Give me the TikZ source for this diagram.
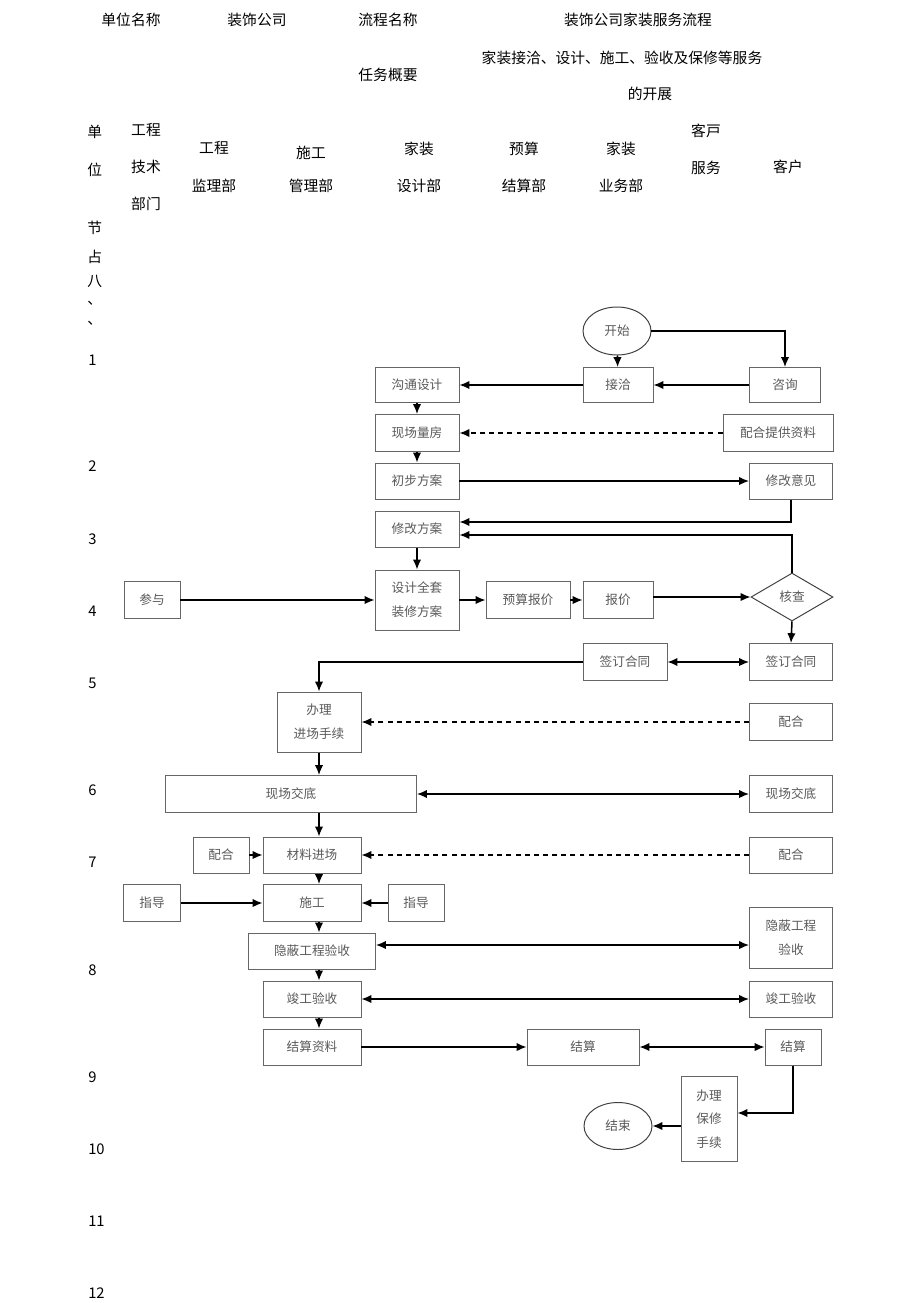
\documentclass[tikz,border=0pt]{standalone}
\usepackage{fontspec}
\setmainfont{Noto Sans CJK SC}
\usetikzlibrary{shapes.geometric, arrows.meta, calc}

\begin{document}
\begin{tikzpicture}[ x = 0.025cm, y = -0.025cm,
    hd/.style = { font = \fontsize{10.5}{12}\selectfont, inner sep = 0pt },
    lbl/.style = { hd, anchor = west },
    box/.style 2 args = { shape = rectangle, draw = black!60, line width = 0.7pt, text = black!65, align = center,
        font = \fontsize{9}{17}\selectfont, inner sep = 0pt, minimum width = #1*0.025cm, minimum height = #2*0.025cm },
    oval/.style 2 args = { box = {#1}{#2}, shape = ellipse, draw = black!75 },
    check/.style 2 args = { box = {#1}{#2}, shape = diamond, draw = black!75 },
    arr/.style = { -{Latex[length = 7pt, width = 6pt]}, line width = 1.1pt },
    dblarr/.style = { {Latex[length = 7pt, width = 6pt]}-{Latex[length = 7pt, width = 6pt]}, line width = 1.1pt },
    dasharr/.style = { arr, dash pattern = on 3.5pt off 3pt } ]
    \useasboundingbox (0,0) rectangle (920,1303);

    % header
    \node (tUnitName) [ hd ] at (131,20) {单位名称};
    \node (tUnit) [ hd ] at (257,20) {装饰公司};
    \node (tFlowName) [ hd ] at (388,20) {流程名称};
    \node (tFlow) [ hd ] at (638,20) {装饰公司家装服务流程};
    \node (tTaskName) [ hd ] at (388,75) {任务概要};
    \node (tTaskA) [ hd ] at (622,58) {家装接洽、设计、施工、验收及保修等服务};
    \node (tTaskB) [ hd ] at (650,94) {的开展};

    % department columns
    \node (tDan) [ lbl ] at (87,132) {单};
    \node (tWei) [ lbl ] at (87,170) {位};
    \node (tTech) [ hd, align = center, font = \fontsize{10.5}{26.5}\selectfont ] at (146,167) {工程\\技术\\部门};
    \node (tSuper) [ hd, align = center, font = \fontsize{10.5}{26.5}\selectfont ] at (214,167) {工程\\监理部};
    \node (tBuild) [ hd, align = center, font = \fontsize{10.5}{23.5}\selectfont ] at (311,169) {施工\\管理部};
    \node (tDesign) [ hd, align = center, font = \fontsize{10.5}{26.5}\selectfont ] at (419,167) {家装\\设计部};
    \node (tBudget) [ hd, align = center, font = \fontsize{10.5}{26.5}\selectfont ] at (524,167) {预算\\结算部};
    \node (tBiz) [ hd, align = center, font = \fontsize{10.5}{26.5}\selectfont ] at (621,167) {家装\\业务部};
    \node (tService) [ hd, align = center, font = \fontsize{10.5}{26.5}\selectfont ] at (706,149) {客戸\\服务};
    \node (tClient) [ hd ] at (788,167) {客户};

    % step column
    \node (tJie) [ lbl ] at (87,228) {节};
    \node (tZhan) [ lbl ] at (87,257) {占};
    \node (tBa) [ lbl ] at (87,281) {八};
    \node (tDunA) [ lbl ] at (87,303) {、};
    \node (tDunB) [ lbl ] at (87,323) {、};
    \foreach \num/\ypos in {1/360, 2/466, 3/539, 4/611, 5/683, 6/790, 7/862, 8/970, 9/1077, 10/1149, 11/1221, 12/1293}
        \node (tStep\num) [ lbl ] at (88,\ypos) {\num};

    % design stage
    \node (nStart) [ oval = {68}{48} ] at (617,331) {开始};
    \node (nJieqia) [ box = {70}{35} ] at (618,385) {接洽};
    \node (nZixun) [ box = {71}{35} ] at (785,385) {咨询};
    \node (nGoutong) [ box = {84}{35} ] at (417,385) {沟通设计};
    \node (nLiangfang) [ box = {84}{37} ] at (417,433) {现场量房};
    \node (nTigong) [ box = {110}{37} ] at (778,433) {配合提供资料};
    \node (nChubu) [ box = {84}{36} ] at (417,481) {初步方案};
    \node (nYijian) [ box = {83}{36} ] at (791,481) {修改意见};
    \node (nXiugai) [ box = {84}{36} ] at (417,529) {修改方案};
    \node (nQuantao) [ box = {84}{60} ] at (417,600) {设计全套\\装修方案};
    \node (nYusuan) [ box = {84}{37} ] at (528,600) {预算报价};
    \node (nBaojia) [ box = {70}{37} ] at (618,600) {报价};
    \node (nHecha) [ check = {82}{48} ] at (792,597) {核查};
    \node (nCanyu) [ box = {56}{37} ] at (152,600) {参与};

    % contract and construction
    \node (nQianL) [ box = {84}{37} ] at (625,662) {签订合同};
    \node (nQianR) [ box = {83}{37} ] at (791,662) {签订合同};
    \node (nBanli) [ box = {84}{60} ] at (319,722) {办理\\进场手续};
    \node (nPeiheA) [ box = {83}{37} ] at (791,722) {配合};
    \node (nJiaodiL) [ box = {251}{37} ] at (291,794) {现场交底};
    \node (nJiaodiR) [ box = {83}{37} ] at (791,794) {现场交底};
    \node (nPeiheL) [ box = {56}{36} ] at (221,855) {配合};
    \node (nCailiao) [ box = {98}{36} ] at (312,855) {材料进场};
    \node (nPeiheB) [ box = {83}{36} ] at (791,855) {配合};
    \node (nZhidaoL) [ box = {57}{37} ] at (152,903) {指导};
    \node (nShigong) [ box = {98}{37} ] at (312,903) {施工};
    \node (nZhidaoR) [ box = {56}{37} ] at (416,903) {指导};
    \node (nYinbiL) [ box = {127}{36} ] at (312,951) {隐蔽工程验收};
    \node (nYinbiR) [ box = {83}{61} ] at (791,938) {隐蔽工程\\验收};
    \node (nJungongL) [ box = {98}{36} ] at (312,999) {竣工验收};
    \node (nJungongR) [ box = {83}{36} ] at (791,999) {竣工验收};
    \node (nZiliao) [ box = {98}{36} ] at (312,1047) {结算资料};
    \node (nJiesuanM) [ box = {112}{36} ] at (583,1047) {结算};
    \node (nJiesuanR) [ box = {56}{36} ] at (793,1047) {结算};
    \node (nBaoxiu) [ box = {56}{85}, font = \fontsize{9}{16.5}\selectfont ] at (709,1119) {办理\\保修\\手续};
    \node (nEnd) [ oval = {68}{47} ] at (618,1126) {结束};

    % connectors, design stage
    \draw [ arr ] (nStart) -- (nJieqia);
    \draw [ arr ] (nStart.east) -| (nZixun.north);
    \draw [ arr ] (nZixun) -- (nJieqia);
    \draw [ arr ] (nJieqia) -- (nGoutong);
    \draw [ arr ] (nGoutong) -- (nLiangfang);
    \draw [ dasharr ] (nTigong) -- (nLiangfang);
    \draw [ arr ] (nLiangfang) -- (nChubu);
    \draw [ arr ] (nChubu) -- (nYijian);
    \draw [ arr ] (nYijian.south) |- ($(nXiugai.east)+(0,-7)$);
    \draw [ arr ] (nHecha.north) |- ($(nXiugai.east)+(0,6)$);
    \draw [ arr ] (nXiugai) -- (nQuantao);
    \draw [ arr ] (nCanyu) -- (nQuantao);
    \draw [ arr ] (nQuantao) -- (nYusuan);
    \draw [ arr ] (nYusuan) -- (nBaojia);
    \draw [ arr ] (nBaojia.east |- nHecha.west) -- (nHecha.west);
    \draw [ arr ] (nHecha.south) -- (nQianR.north);

    % connectors, construction
    \draw [ dblarr ] (nQianL) -- (nQianR);
    \draw [ arr ] (nQianL.west) -| (nBanli.north);
    \draw [ dasharr ] (nPeiheA) -- (nBanli);
    \draw [ arr ] (nBanli) -- (nBanli |- nJiaodiL.north);
    \draw [ dblarr ] (nJiaodiL) -- (nJiaodiR);
    \draw [ arr ] (nBanli |- nJiaodiL.south) -- (nBanli |- nCailiao.north);
    \draw [ arr ] (nPeiheL) -- (nCailiao);
    \draw [ dasharr ] (nPeiheB) -- (nCailiao);
    \draw [ arr ] (nBanli |- nCailiao.south) -- (nBanli |- nShigong.north);
    \draw [ arr ] (nZhidaoL) -- (nShigong);
    \draw [ arr ] (nZhidaoR) -- (nShigong);
    \draw [ arr ] (nBanli |- nShigong.south) -- (nBanli |- nYinbiL.north);
    \coordinate (cHidden) at ($(nYinbiL.east)!0.5!(nYinbiR.west)+(0,0.5)$);
    \draw [ dblarr ] (nYinbiL.east |- cHidden) -- (nYinbiR.west |- cHidden);
    \draw [ arr ] (nBanli |- nYinbiL.south) -- (nBanli |- nJungongL.north);
    \draw [ dblarr ] (nJungongL) -- (nJungongR);
    \draw [ arr ] (nBanli |- nJungongL.south) -- (nBanli |- nZiliao.north);
    \draw [ arr ] (nZiliao) -- (nJiesuanM);
    \draw [ dblarr ] (nJiesuanM) -- (nJiesuanR);
    \draw [ arr ] (nJiesuanR.south) |- ($(nBaoxiu.east)+(0,-6)$);
    \draw [ arr ] (nBaoxiu.west |- nEnd.east) -- (nEnd.east);
\end{tikzpicture}
\end{document}
